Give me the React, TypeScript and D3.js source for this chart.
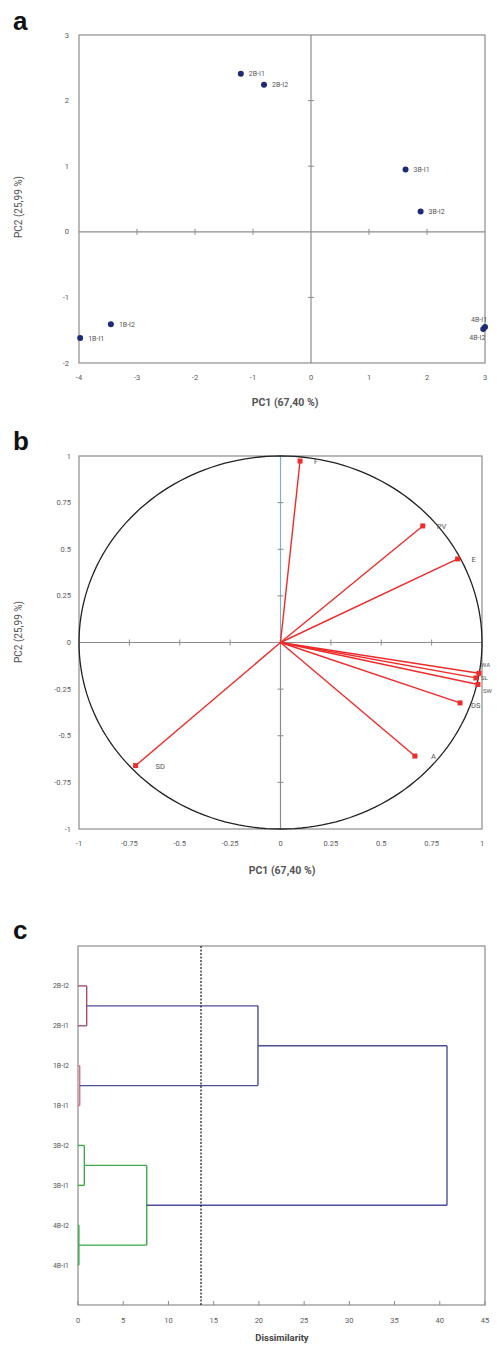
import React from 'react';
import * as d3 from 'd3';

// ---- panel a: sample scores ----
const sampleNames = ['2B-I1', '2B-I2', '3B-I1', '3B-I2', '1B-I2', '1B-I1', '4B-I1', '4B-I2'];
const pc1Scores = [-1.21, -0.81, 1.63, 1.89, -3.45, -3.98, 3.0, 2.97];
const pc2Scores = [2.41, 2.24, 0.95, 0.31, -1.41, -1.62, -1.45, -1.48];
const aXTicks = [-4, -3, -2, -1, 0, 1, 2, 3];
const aYTicks = [-2, -1, 0, 1, 2, 3];

// ---- panel b: variable loadings ----
const varNames = ['F', 'PV', 'E', 'WA', 'SL', 'SW', 'DS', 'A', 'SD'];
const varPC1 = [0.097, 0.706, 0.879, 0.985, 0.97, 0.98, 0.891, 0.667, -0.719];
const varPC2 = [0.973, 0.625, 0.448, -0.165, -0.19, -0.225, -0.324, -0.609, -0.66];
const bTicks = [-1, -0.75, -0.5, -0.25, 0, 0.25, 0.5, 0.75, 1];

// ---- panel c: dendrogram ----
const leafNames = ['2B-I2', '2B-I1', '1B-I2', '1B-I1', '3B-I2', '3B-I1', '4B-I2', '4B-I1'];
const mergeLeft = ['2B-I2', '1B-I2', 'm0', '3B-I2', '4B-I2', 'm3', 'm2'];
const mergeRight = ['2B-I1', '1B-I1', 'm1', '3B-I1', '4B-I1', 'm4', 'm5'];
const mergeHeight = [0.96, 0.19, 19.9, 0.7, 0.1, 7.6, 40.8];
const mergeGroup = ['pink', 'red', 'blue', 'green', 'green', 'green', 'blue'];
const cutLevel = 13.6;
const cTicks = [0, 5, 10, 15, 20, 25, 30, 35, 40, 45];

const groupColors: Record<string, string> = {
  pink: '#a2506f',
  red: '#d9707f',
  blue: '#4c4e98',
  green: '#3eaa48',
};

const FONT = 'Roboto, "Liberation Sans", sans-serif';
const AXIS = '#8c8c8c';
const TICKTXT = '#5a5a5a';

// label nudges (px) for crowded points near the right edge
const sampleLabelShift = (n: string) =>
  n === '4B-I2' ? [-14, 11] : n === '4B-I1' ? [-14, -5] : [8, 2.5];
const varLabelShift = (n: string) => {
  switch (n) {
    case 'SD': return [20, 3];
    case 'A': return [16, 3];
    case 'WA': return [2, -6];
    case 'SL': return [5, 2];
    case 'SW': return [5, 9];
    case 'DS': return [11, 5];
    default: return [14, 3];
  }
};

const App = () => {
  // scales
  const ax = d3.scaleLinear().domain([-4, 3]).range([79, 485]);
  const ay = d3.scaleLinear().domain([-2, 3]).range([363, 35]);
  const bx = d3.scaleLinear().domain([-1, 1]).range([79, 482]);
  const by = d3.scaleLinear().domain([-1, 1]).range([829, 456]);
  const cx = d3.scaleLinear().domain([0, 45]).range([78, 485]);
  const cy = d3.scaleLinear().domain([0, 9]).range([946, 1305]);

  // correlation circle
  const circle = d3.range(0, 361, 2).map((deg) => {
    const t = (deg * Math.PI) / 180;
    return [bx(Math.cos(t)), by(Math.sin(t))] as [number, number];
  });
  const circlePath = d3.line()(circle) + 'Z';

  // dendrogram geometry
  const pos: Record<string, { x: number; y: number }> = {};
  leafNames.forEach((n, i) => (pos[n] = { x: 0, y: i + 1 }));
  const segs: { x1: number; y1: number; x2: number; y2: number; c: string }[] = [];
  mergeHeight.forEach((h, i) => {
    const l = pos[mergeLeft[i]];
    const r = pos[mergeRight[i]];
    const c = groupColors[mergeGroup[i]];
    segs.push({ x1: cx(l.x), y1: cy(l.y), x2: cx(h), y2: cy(l.y), c });
    segs.push({ x1: cx(r.x), y1: cy(r.y), x2: cx(h), y2: cy(r.y), c });
    segs.push({ x1: cx(h), y1: cy(l.y), x2: cx(h), y2: cy(r.y), c });
    pos['m' + i] = { x: h, y: (l.y + r.y) / 2 };
  });

  const panelLabel = (t: string, y: number) => (
    <text x={13} y={y} fontFamily='"Liberation Sans", Arial, sans-serif' fontWeight="bold" fontSize={26} fill="#111">
      {t}
    </text>
  );

  const yTitle = (cxPos: number, cyPos: number) => (
    <text
      transform={`translate(${cxPos},${cyPos}) rotate(-90)`}
      textAnchor="middle"
      fontFamily={FONT}
      fontSize={10}
      fill="#555"
    >
      PC2 (25,99 %)
    </text>
  );

  return (
    <svg
      width={497}
      height={1346}
      style={{ position: 'absolute', left: 0, top: 0, background: '#fff' }}
      fontFamily={FONT}
    >
      {/* ===== a ===== */}
      {panelLabel('a', 30)}
      <rect x={79} y={35} width={406} height={328} fill="none" stroke={AXIS} strokeWidth={1.2} />
      <line x1={ax(-4)} x2={ax(3)} y1={ay(0)} y2={ay(0)} stroke={AXIS} strokeWidth={1.2} />
      <line x1={ax(0)} x2={ax(0)} y1={ay(3)} y2={ay(-2)} stroke={AXIS} strokeWidth={1.2} />
      {aXTicks.filter((t) => t !== 0 && t > -4 && t < 3).map((t) => (
        <line key={'axt' + t} x1={ax(t)} x2={ax(t)} y1={ay(0) - 3} y2={ay(0) + 3} stroke={AXIS} />
      ))}
      {aYTicks.filter((t) => t !== 0 && t > -2 && t < 3).map((t) => (
        <line key={'ayt' + t} x1={ax(0) - 3} x2={ax(0) + 3} y1={ay(t)} y2={ay(t)} stroke={AXIS} />
      ))}
      {aXTicks.map((t) => (
        <text key={'axl' + t} x={ax(t)} y={380} textAnchor="middle" fontSize={7.5} fill={TICKTXT}>
          {t}
        </text>
      ))}
      {aYTicks.map((t) => (
        <text key={'ayl' + t} x={69} y={ay(t) + 2.5} textAnchor="end" fontSize={7.5} fill={TICKTXT}>
          {t}
        </text>
      ))}
      <text x={285} y={406} textAnchor="middle" fontSize={10.5} fontWeight="bold" fill="#555">
        PC1 (67,40 %)
      </text>
      {yTitle(22, 207)}
      {sampleNames.map((n, i) => {
        const px = ax(pc1Scores[i]);
        const py = ay(pc2Scores[i]);
        const [dx, dy] = sampleLabelShift(n);
        return (
          <g key={n}>
            <circle cx={px} cy={py} r={3} fill="#1e2a78" />
            <text x={px + dx} y={py + dy} fontSize={7} fill="#555">
              {n}
            </text>
          </g>
        );
      })}

      {/* ===== b ===== */}
      {panelLabel('b', 450)}
      <rect x={79} y={456} width={403} height={373} fill="none" stroke={AXIS} strokeWidth={1.2} />
      <line x1={bx(-1)} x2={bx(1)} y1={by(0)} y2={by(0)} stroke={AXIS} strokeWidth={1.2} />
      <line x1={bx(0)} x2={bx(0)} y1={by(0)} y2={by(-1)} stroke={AXIS} strokeWidth={1.2} />
      <line x1={bx(0)} x2={bx(0)} y1={by(1)} y2={by(0)} stroke="#7fb3b5" strokeWidth={1.2} />
      {bTicks.filter((t) => Math.abs(t) !== 1 && t !== 0).map((t) => (
        <g key={'bt' + t}>
          <line x1={bx(t)} x2={bx(t)} y1={by(0) - 3} y2={by(0) + 3} stroke={AXIS} />
          <line x1={bx(0) - 3} x2={bx(0) + 3} y1={by(t)} y2={by(t)} stroke={AXIS} />
        </g>
      ))}
      {bTicks.map((t) => (
        <text key={'bxl' + t} x={bx(t)} y={846} textAnchor="middle" fontSize={7.5} fill={TICKTXT}>
          {t}
        </text>
      ))}
      {bTicks.map((t) => (
        <text key={'byl' + t} x={71} y={by(t) + 2.5} textAnchor="end" fontSize={7.5} fill={TICKTXT}>
          {t}
        </text>
      ))}
      <path d={circlePath} fill="none" stroke="#222" strokeWidth={1.3} />
      {varNames.map((n, i) => {
        const px = bx(varPC1[i]);
        const py = by(varPC2[i]);
        return (
          <g key={n}>
            <line x1={bx(0)} y1={by(0)} x2={px} y2={py} stroke="#ef2b2b" strokeWidth={1.4} />
            <rect x={px - 2.5} y={py - 2.5} width={5} height={5} fill="#ef2b2b" />
          </g>
        );
      })}
      {varNames.map((n, i) => {
        const px = bx(varPC1[i]);
        const py = by(varPC2[i]);
        const [dx, dy] = varLabelShift(n);
        return (
          <text key={'bl' + n} x={px + dx} y={py + dy} fontSize={n.length > 1 && px > 470 ? 6 : 7.5} fill="#555">
            {n}
          </text>
        );
      })}
      <text x={282} y={874} textAnchor="middle" fontSize={10.5} fontWeight="bold" fill="#555">
        PC1 (67,40 %)
      </text>
      {yTitle(22, 632)}

      {/* ===== c ===== */}
      {panelLabel('c', 939)}
      <rect x={78} y={946} width={407} height={359} fill="none" stroke={AXIS} strokeWidth={1.2} />
      {cTicks.map((t) => (
        <g key={'ct' + t}>
          <line x1={cx(t)} x2={cx(t)} y1={1305} y2={1301} stroke={AXIS} />
          <text x={cx(t)} y={1323} textAnchor="middle" fontSize={7.5} fill={TICKTXT}>
            {t}
          </text>
        </g>
      ))}
      {leafNames.map((n, i) => (
        <text key={'leaf' + n} x={69} y={cy(i + 1) + 2.5} textAnchor="end" fontSize={7} fill="#555">
          {n}
        </text>
      ))}
      {segs.map((s, i) => (
        <line key={'seg' + i} x1={s.x1} y1={s.y1} x2={s.x2} y2={s.y2} stroke={s.c} strokeWidth={1.4} />
      ))}
      <line
        x1={cx(cutLevel)}
        x2={cx(cutLevel)}
        y1={946}
        y2={1305}
        stroke="#111"
        strokeWidth={1.2}
        strokeDasharray="2,1.5"
      />
      <text x={282} y={1341} textAnchor="middle" fontSize={9.5} fontWeight="bold" fill="#444">
        Dissimilarity
      </text>
    </svg>
  );
};

export default App;
